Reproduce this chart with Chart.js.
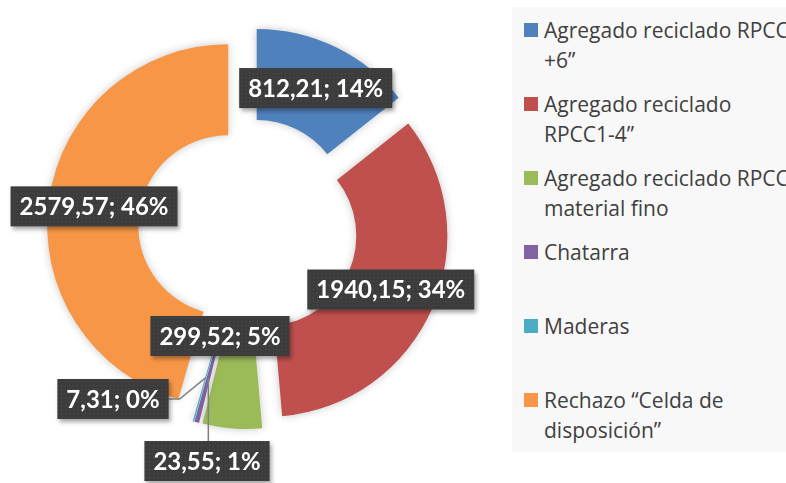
<!DOCTYPE html>
<html>
<head>
<meta charset="utf-8">
<script src="https://cdn.jsdelivr.net/npm/chart.js@4.4.1/dist/chart.umd.min.js"></script>
<style>
  html, body { margin: 0; padding: 0; background: #fff; }
  #wrap { position: relative; width: 786px; height: 483px; overflow: hidden; }
  #wrap canvas { position: absolute; left: 0; top: 0; }
  #legend {
    position: absolute; left: 512px; top: 7px; width: 274px; height: 445px;
    background: #f8f8f8; overflow: hidden;
    font-family: "Open Sans", sans-serif; font-size: 21px; color: #404040;
  }
  .item { position: absolute; left: 0; width: 320px; }
  .sw { position: absolute; left: 12px; top: 8px; width: 14px; height: 14px; }
  .tx { position: absolute; left: 32px; top: 0; width: 252px; line-height: 30px; white-space: normal; }
</style>
</head>
<body>
<div id="wrap">
  <canvas id="chartResiduos" width="786" height="483"></canvas>
  <div id="legend"></div>
</div>
<script>
// Datos del gráfico
const categories = [
  'Agregado reciclado RPCC +6”',
  'Agregado reciclado RPCC1-4”',
  'Agregado reciclado RPCC material fino',
  'Chatarra',
  'Maderas',
  'Rechazo “Celda de disposición”'
];
const values = [812.21, 1940.15, 299.52, 23.55, 7.31, 2579.57];
const percents = [14, 34, 5, 1, 0, 46];
const colors = ['#4F81BD', '#C0504D', '#9BBB59', '#8064A2', '#4BACC6', '#F79646'];

// Etiquetas movidas a mano (relativas al centro) y las que llevan línea guía
const labelPlacement = [null, null, { dx: -28, dy: 108 }, { dx: -41, dy: 233 }, { dx: -135, dy: 171 }, null];
const leaderLines = [false, false, false, true, true, false];

const EXPLODE = 20;
const LABEL_FONT = 'bold 24px Lato, "Open Sans", sans-serif';

const fmt = v => v.toFixed(2).replace('.', ',');

// Textura punteada de las etiquetas
function makePattern(ctx) {
  const tile = document.createElement('canvas');
  tile.width = 4; tile.height = 4;
  const t = tile.getContext('2d');
  t.fillStyle = '#3c3c3c';
  t.fillRect(0, 0, 4, 4);
  t.fillStyle = '#4e4e4e';
  t.fillRect(1, 1, 1, 1);
  return ctx.createPattern(tile, 'repeat');
}

// Sectores separados con sombra suave
const explodePlugin = {
  id: 'explode',
  beforeDatasetDraw(chart, args) {
    const ctx = chart.ctx;
    args.meta.data.forEach(arc => {
      const mid = (arc.startAngle + arc.endAngle) / 2;
      ctx.save();
      ctx.translate(Math.cos(mid) * EXPLODE, Math.sin(mid) * EXPLODE);
      ctx.shadowColor = 'rgba(0, 0, 0, 0.22)';
      ctx.shadowBlur = 8;
      arc.draw(ctx);
      ctx.restore();
    });
    return false;
  }
};

// Etiquetas "valor; %" en cajas oscuras
const labelPlugin = {
  id: 'boxLabels',
  afterDatasetsDraw(chart) {
    const ctx = chart.ctx;
    const arcs = chart.getDatasetMeta(0).data;
    const pattern = makePattern(ctx);
    ctx.save();
    ctx.font = LABEL_FONT;
    arcs.forEach((arc, i) => {
      const mid = (arc.startAngle + arc.endAngle) / 2;
      const rr = EXPLODE + (arc.innerRadius + arc.outerRadius) / 2;
      const ax = arc.x + Math.cos(mid) * rr;
      const ay = arc.y + Math.sin(mid) * rr;
      const spot = labelPlacement[i];
      const cx = spot ? arc.x + spot.dx : ax;
      const cy = spot ? arc.y + spot.dy : ay;
      const text = fmt(values[i]) + '; ' + percents[i] + '%';
      const w = ctx.measureText(text).width + 18;
      const h = 40;
      const bx = cx - w / 2, by = cy - h / 2;

      if (leaderLines[i]) {
        ctx.beginPath();
        ctx.strokeStyle = '#7f7f7f';
        ctx.lineWidth = 1.5;
        ctx.moveTo(ax, ay);
        if (ax >= bx && ax <= bx + w) {
          ctx.lineTo(ax, ay < by ? by : by + h);
        } else {
          const edge = ax < bx ? bx : bx + w;
          ctx.lineTo(ax < bx ? edge - 11 : edge + 11, cy);
          ctx.lineTo(edge, cy);
        }
        ctx.stroke();
      }

      ctx.save();
      ctx.shadowColor = 'rgba(0, 0, 0, 0.35)';
      ctx.shadowBlur = 4;
      ctx.shadowOffsetX = 2;
      ctx.shadowOffsetY = 3;
      ctx.fillStyle = pattern;
      ctx.fillRect(bx, by, w, h);
      ctx.restore();

      ctx.fillStyle = '#ffffff';
      ctx.textAlign = 'center';
      ctx.textBaseline = 'middle';
      ctx.fillText(text, cx, cy + 1);
    });
    ctx.restore();
  }
};

new Chart(document.getElementById('chartResiduos'), {
  type: 'doughnut',
  data: {
    labels: categories,
    datasets: [{
      data: values,
      backgroundColor: colors,
      borderWidth: 0
    }]
  },
  options: {
    responsive: false,
    animation: false,
    radius: 181,
    cutout: '49.7%',
    layout: { padding: { left: 0, top: 0, right: 290, bottom: 27 } },
    plugins: {
      legend: { display: false },
      tooltip: { enabled: false }
    }
  },
  plugins: [explodePlugin, labelPlugin]
});

// Leyenda a la derecha
const legend = document.getElementById('legend');
categories.forEach((name, i) => {
  const item = document.createElement('div');
  item.className = 'item';
  item.style.top = (7.5 + 74 * i) + 'px';
  item.innerHTML = '<span class="sw" style="background:' + colors[i] + '"></span><span class="tx"></span>';
  item.querySelector('.tx').textContent = name;
  legend.appendChild(item);
});
</script>
</body>
</html>
